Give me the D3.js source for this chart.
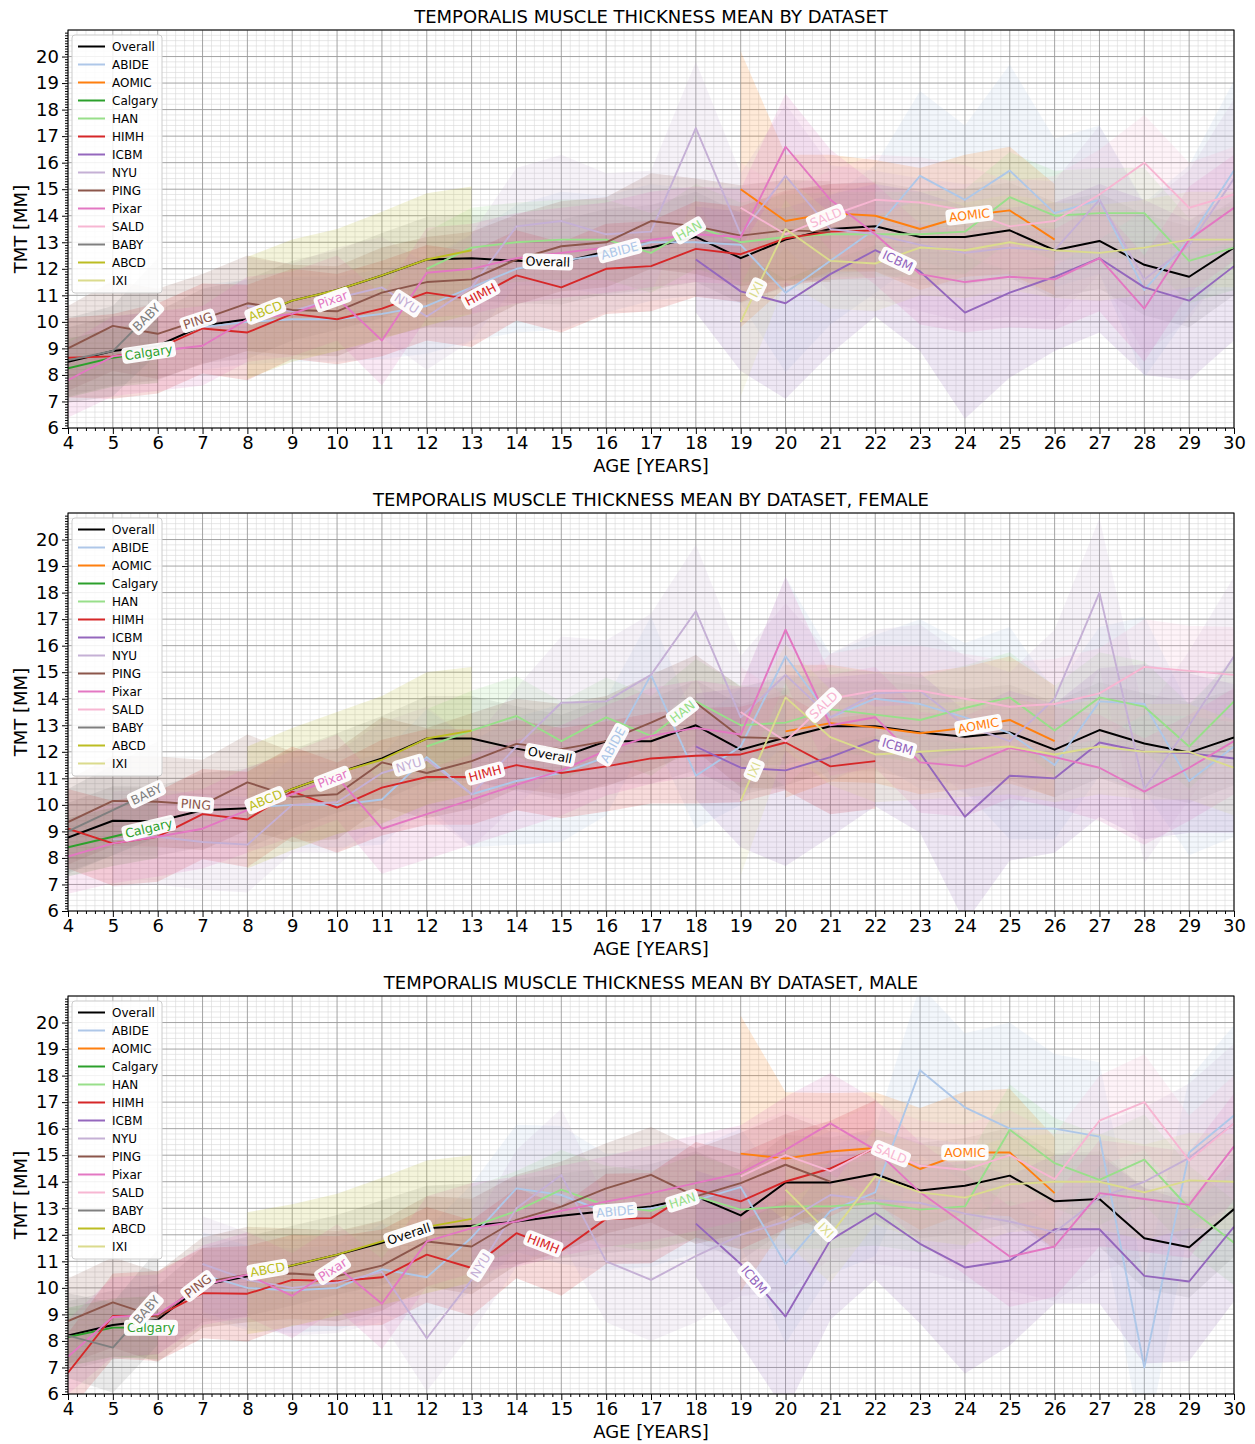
<!DOCTYPE html>
<html>
<head>
<meta charset="utf-8">
<script src="https://cdn.jsdelivr.net/npm/d3@7"></script>
<style>
  body { margin: 0; background: #fff; }
  svg text { font-family: "DejaVu Sans", sans-serif; }
</style>
</head>
<body>
<svg id="chart" width="1255" height="1444"></svg>
<script>
// ---------- categories ----------
const AGES = [4,5,6,7,8,9,10,11,12,13,14,15,16,17,18,19,20,21,22,23,24,25,26,27,28,29,30];
const Y_TICKS = [6,7,8,9,10,11,12,13,14,15,16,17,18,19,20];
const DATASETS = ["Overall","ABIDE","AOMIC","Calgary","HAN","HIMH","ICBM","NYU","PING","Pixar","SALD","BABY","ABCD","IXI"];
const COLORS = ["#000000","#aec7e8","#ff7f0e","#2ca02c","#98df8a","#d62728","#9467bd","#c5b0d5","#8c564b","#e377c2","#f7b6d2","#7f7f7f","#bcbd22","#dbdb8d"];
const TITLES = [
  "TEMPORALIS MUSCLE THICKNESS MEAN BY DATASET",
  "TEMPORALIS MUSCLE THICKNESS MEAN BY DATASET, FEMALE",
  "TEMPORALIS MUSCLE THICKNESS MEAN BY DATASET, MALE"
];

// ---------- all subjects: first age of each dataset and mean TMT per year ----------
const FIRST_AGE_ALL = [4,7,19,4,12,4,18,8,4,4,19,4,8,19];
const ALL_OVERALL = [8.5,8.9,9.1,9.85,10.1,10.8,11.2,11.75,12.35,12.4,12.3,12.25,12.65,12.8,13.2,12.4,13.1,13.5,13.6,13.2,13.2,13.45,12.7,13.05,12.15,11.7,12.8];
const ALL_ABIDE = [9.8,10.0,10.1,10.1,10.3,10.6,11.3,12.0,12.3,12.55,13.0,13.0,12.9,11.1,12.3,13.5,15.5,14.6,15.7,14.1,14.6,11.2,13.1,15.7];
const ALL_AOMIC = [15.0,13.8,14.1,14.0,13.5,14.0,14.2,13.1];
const ALL_CALGARY = [8.25,8.65,8.9];
const ALL_HAN = [12.0,12.8,13.0,13.1,13.1,12.6,13.6,13.0,13.2,13.3,13.3,13.3,13.4,14.7,14.0,14.1,14.1,12.3,12.8];
const ALL_HIMH = [8.65,8.7,9.0,9.75,9.6,10.3,10.1,10.5,11.1,10.85,11.75,11.3,12.0,12.1,12.75,12.55,13.15,13.4,13.45];
const ALL_ICBM = [12.35,11.15,10.7,11.8,12.7,11.9,10.35,11.1,11.7,12.4,11.3,10.8,12.1];
const ALL_NYU = [10.6,10.4,10.9,11.3,10.2,11.3,13.6,13.8,13.3,13.4,17.3,13.3,15.5,13.5,13.3,12.9,12.6,12.8,12.7,14.6,11.6,12.9,15.4];
const ALL_PING = [9.0,9.85,9.55,10.1,10.7,10.45,10.4,11.1,11.5,11.6,12.35,12.85,13.0,13.8,13.6,13.25,13.45,13.4];
const ALL_PIXAR = [7.8,8.7,8.9,9.1,10.1,10.3,10.9,9.3,11.85,12.0,12.4,12.6,12.8,13.1,13.3,13.2,16.6,14.6,13.3,11.8,11.5,11.7,11.6,12.4,10.5,13.1,14.3];
const ALL_SALD = [14.3,13.3,14.0,14.6,14.5,14.2,13.6,13.8,14.8,16.0,14.3,14.8];
const ALL_BABY = [8.55,8.9,10.6];
const ALL_ABCD = [10.15,10.8,11.2,11.75,12.35,12.7];
const ALL_IXI = [10.0,13.5,12.3,12.2,12.8,12.7,13.0,12.7,12.6,12.8,13.1,13.1];
const LABEL_AGE_ALL = [14.7,16.3,24.1,5.8,17.85,13.2,22.5,11.55,6.9,9.9,20.9,5.75,8.4,19.35];

// ---------- female ----------
const FIRST_AGE_FEMALE = [4,8,20,4,12,4,18,5,4,4,19,4,8,19];
const FEMALE_OVERALL = [8.77,9.4,9.38,9.8,9.87,10.6,11.2,11.75,12.5,12.5,12.12,11.8,12.4,12.4,13.0,12.08,12.54,12.96,12.96,12.73,12.57,12.73,12.08,12.82,12.31,11.97,12.54];
const FEMALE_ABIDE = [9.9,10.0,10.0,10.2,11.8,10.4,10.9,11.2,11.8,14.9,11.1,12.2,15.6,13.3,14.0,13.8,13.3,12.7,11.5,13.9,13.8,10.9,12.2];
const FEMALE_AOMIC = [12.77,13.08,12.92,12.7,12.9,13.2,12.4];
const FEMALE_CALGARY = [8.4,8.8,9.2];
const FEMALE_HAN = [12.2,12.8,13.35,12.4,13.3,12.6,13.9,13.0,13.1,13.6,13.4,13.2,13.65,14.05,12.8,14.05,13.7,12.2,13.9];
const FEMALE_HIMH = [9.1,8.55,8.8,9.65,9.45,10.5,9.9,10.65,11.05,11.05,11.5,11.2,11.45,11.75,11.85,11.9,12.35,11.45,11.65];
const FEMALE_ICBM = [12.2,11.4,11.3,11.8,12.45,11.95,9.55,11.1,11.0,12.35,12.0,11.95,11.75];
const FEMALE_NYU = [8.7,8.8,8.6,8.5,10.0,10.1,11.2,11.7,10.4,12.2,13.85,13.9,14.9,17.3,13.3,14.9,13.3,14.2,14.3,13.0,12.4,14.0,18.0,10.6,13.0,15.6];
const FEMALE_PING = [9.35,10.15,10.12,10.0,10.85,10.3,10.4,11.6,11.2,11.65,12.3,12.1,12.4,13.1,13.85,12.55,12.5];
const FEMALE_PIXAR = [8.05,8.55,8.8,9.1,9.8,10.4,11.05,9.1,9.65,10.2,10.75,11.3,12.05,12.6,12.9,12.65,16.6,13.0,13.3,11.6,11.45,12.15,11.8,11.4,10.5,11.4,12.4];
const FEMALE_SALD = [13.5,12.4,14.0,14.3,14.3,14.0,13.7,13.8,14.2,15.2,15.05,14.9];
const FEMALE_BABY = [9.0,9.8,10.6];
const FEMALE_ABCD = [9.9,10.6,11.2,11.7,12.5,12.8];
const FEMALE_IXI = [10.15,14.05,12.55,11.9,12.0,12.1,12.2,11.9,12.2,12.0,12.0,11.4];
const LABEL_AGE_FEMALE = [14.75,16.15,24.3,5.8,17.7,13.3,22.5,11.6,6.85,9.9,20.85,5.75,8.4,19.3];

// ---------- male ----------
const FIRST_AGE_MALE = [4,7,19,4,13,4,18,7,4,4,19,4,8,20];
const MALE_OVERALL = [8.2,8.6,8.8,10.1,10.44,10.84,11.25,11.7,12.25,12.34,12.5,12.72,12.9,13.07,13.45,12.73,13.97,13.97,14.29,13.67,13.85,14.23,13.26,13.35,11.87,11.53,12.97];
const MALE_ABIDE = [10.5,10.0,9.9,10.0,10.7,10.4,11.9,13.75,13.5,12.85,13.0,13.3,13.8,10.9,12.9,13.6,18.2,16.8,16.0,16.0,15.7,7.0,15.1,16.5];
const MALE_AOMIC = [15.06,14.87,15.14,15.27,14.48,15.1,15.1,13.57];
const MALE_CALGARY = [8.15,8.5,8.5];
const MALE_HAN = [12.3,12.9,13.7,13.1,12.9,13.45,12.95,13.07,13.07,13.2,12.95,13.07,15.96,14.7,14.07,14.83,13.0,11.7];
const MALE_HIMH = [6.8,8.94,8.94,9.8,9.78,10.3,10.25,10.4,11.25,10.75,12.06,11.4,12.6,12.63,13.7,13.26,14.01,14.5,15.27];
const MALE_ICBM = [12.42,10.9,8.92,11.8,12.82,11.66,10.77,11.03,12.21,12.21,10.45,10.24,12.3];
const MALE_NYU = [10.9,10.3,10.0,10.2,10.6,8.1,10.3,13.0,14.25,11.0,10.3,11.2,12.0,12.5,13.5,13.3,13.2,12.8,12.5,12.1,13.4,14.0,14.9,16.2];
const MALE_PING = [8.75,9.45,8.9,10.2,10.5,10.54,10.44,10.84,11.75,11.56,12.56,13.06,13.75,14.26,13.45,13.95,14.64,14.0];
const MALE_PIXAR = [7.4,8.9,9.0,10.1,10.5,9.7,10.8,9.4,11.75,12.25,12.5,12.9,13.25,13.57,13.95,14.33,15.2,16.2,15.2,13.6,12.4,11.18,11.56,13.57,13.35,13.13,15.33];
const MALE_SALD = [14.2,15.0,14.4,15.3,14.6,14.45,15.0,14.1,16.3,17.0,14.8,16.2];
const MALE_BABY = [8.2,7.75,9.65];
const MALE_ABCD = [10.55,10.85,11.25,11.75,12.3,12.6];
const MALE_IXI = [13.7,12.0,14.2,13.6,13.4,13.9,14.0,14.0,13.6,14.05,14.0];
const LABEL_AGE_MALE = [11.6,16.2,24.0,5.85,17.7,14.6,19.3,13.2,6.9,9.9,22.35,5.75,8.45,20.9];

// ---------- spread (std) per dataset, by year, starting at SD_FIRST_AGE ----------
const SD_FIRST_AGE = [4,5,19,4,12,4,18,5,4,4,19,4,8,19];
const SD_OVERALL = [1.3,1.3,1.3,1.4,1.5,1.5,1.5,1.6,1.6,1.6,1.6,1.6,1.6,1.6,1.7,1.7,1.8,1.7,1.7,1.8,1.8,1.8,1.8,1.8,1.9,1.9,1.8];
const SD_ABIDE = [1.6,1.6,1.6,1.6,1.6,1.6,1.7,1.8,2.0,2.4,2.6,2.2,2.2,2.0,2.2,3.0,2.4,2.4,3.2,2.8,4.0,2.8,2.8,3.3,2.8,3.4];
const SD_AOMIC = [5.2,2.5,2.2,2.1,2.3,2.3,2.4,2.1];
const SD_CALGARY = [1.1,1.1,1.2];
const SD_HAN = [1.4,1.5,1.5,1.5,1.5,1.5,1.6,1.5,1.6,1.6,1.6,1.6,1.6,1.7,1.7,1.7,1.7,1.6,1.6];
const SD_HIMH = [1.5,1.6,1.7,1.7,1.8,1.7,1.7,1.8,1.8,1.8,1.7,1.7,1.7,1.7,1.8,1.8,1.8,1.8,1.8];
const SD_ICBM = [2.0,3.0,3.6,3.0,2.5,3.0,4.0,3.2,2.8,2.8,3.3,3.0,2.8];
const SD_NYU = [1.8,1.8,1.8,1.8,1.8,1.9,1.9,2.0,2.0,2.2,2.5,2.3,2.3,2.5,2.3,2.7,2.4,2.4,2.5,2.6,2.6,2.6,2.8,2.8,2.8,3.0];
const SD_PING = [1.6,1.7,1.7,1.7,1.8,1.7,1.7,1.7,1.7,1.8,1.7,1.7,1.7,1.8,1.8,1.9,1.9,1.9];
const SD_PIXAR = [1.4,1.5,1.5,1.5,1.6,1.6,1.6,1.7,1.7,1.7,1.7,1.7,1.7,1.8,1.8,1.8,2.0,1.9,1.9,1.9,1.9,1.9,1.9,2.0,2.0,2.0,2.0];
const SD_SALD = [1.7,1.7,1.7,1.7,1.7,1.7,1.7,1.7,1.7,1.8,1.7,1.8];
const SD_BABY = [1.6,1.7,1.8];
const SD_ABCD = [2.3,2.3,2.3,2.4,2.5,2.4];
const SD_IXI = [2.8,2.0,1.8,1.8,1.8,1.8,1.8,1.8,1.8,1.8,1.8,1.8];

const SD_LIST = [SD_OVERALL,SD_ABIDE,SD_AOMIC,SD_CALGARY,SD_HAN,SD_HIMH,SD_ICBM,SD_NYU,SD_PING,SD_PIXAR,SD_SALD,SD_BABY,SD_ABCD,SD_IXI];

const PANELS = [
  { title: TITLES[0], first: FIRST_AGE_ALL, labelAge: LABEL_AGE_ALL,
    means: [ALL_OVERALL,ALL_ABIDE,ALL_AOMIC,ALL_CALGARY,ALL_HAN,ALL_HIMH,ALL_ICBM,ALL_NYU,ALL_PING,ALL_PIXAR,ALL_SALD,ALL_BABY,ALL_ABCD,ALL_IXI] },
  { title: TITLES[1], first: FIRST_AGE_FEMALE, labelAge: LABEL_AGE_FEMALE,
    means: [FEMALE_OVERALL,FEMALE_ABIDE,FEMALE_AOMIC,FEMALE_CALGARY,FEMALE_HAN,FEMALE_HIMH,FEMALE_ICBM,FEMALE_NYU,FEMALE_PING,FEMALE_PIXAR,FEMALE_SALD,FEMALE_BABY,FEMALE_ABCD,FEMALE_IXI] },
  { title: TITLES[2], first: FIRST_AGE_MALE, labelAge: LABEL_AGE_MALE,
    means: [MALE_OVERALL,MALE_ABIDE,MALE_AOMIC,MALE_CALGARY,MALE_HAN,MALE_HIMH,MALE_ICBM,MALE_NYU,MALE_PING,MALE_PIXAR,MALE_SALD,MALE_BABY,MALE_ABCD,MALE_IXI] }
];

// ---------- layout ----------
const LEFT = 68, RIGHT = 1234, PLOT_H = 398;
const PANEL_TOPS = [30, 513, 996];
const svg = d3.select("#chart");

const x = d3.scaleLinear().domain([4, 30]).range([LEFT, RIGHT]);
const minorX = d3.range(0, 131).map(i => 4 + i * 0.2).filter(v => Math.abs(v - Math.round(v)) > 1e-6);
const minorYGrid = d3.range(0, 76).map(i => 6 + i * 0.2).filter(v => Math.abs(v - Math.round(v)) > 1e-6);
const minorYTicks = d3.range(0, 151).map(i => 6 + i * 0.1).filter(v => Math.abs(v - Math.round(v)) > 1e-6);

PANELS.forEach((panel, p) => {
  const top = PANEL_TOPS[p];
  const bottom = top + PLOT_H;
  const y = d3.scaleLinear().domain([6, 21]).range([bottom, top]);
  const g = svg.append("g");

  const clipId = "clip" + p;
  svg.append("defs").append("clipPath").attr("id", clipId)
    .append("rect").attr("x", LEFT).attr("y", top).attr("width", RIGHT - LEFT).attr("height", PLOT_H);

  // grid: minor every 0.2, major every unit
  const grid = g.append("g");
  grid.selectAll(".mx").data(minorX).join("line")
    .attr("x1", d => x(d)).attr("x2", d => x(d)).attr("y1", top).attr("y2", bottom)
    .attr("stroke", "#d9d9d9").attr("stroke-width", 0.6);
  grid.selectAll(".my").data(minorYGrid).join("line")
    .attr("x1", LEFT).attr("x2", RIGHT).attr("y1", d => y(d)).attr("y2", d => y(d))
    .attr("stroke", "#d9d9d9").attr("stroke-width", 0.6);
  grid.selectAll(".Mx").data(AGES).join("line")
    .attr("x1", d => x(d)).attr("x2", d => x(d)).attr("y1", top).attr("y2", bottom)
    .attr("stroke", "#9a9a9a").attr("stroke-width", 0.9);
  grid.selectAll(".My").data(d3.range(6, 22)).join("line")
    .attr("x1", LEFT).attr("x2", RIGHT).attr("y1", d => y(d)).attr("y2", d => y(d))
    .attr("stroke", "#9a9a9a").attr("stroke-width", 0.9);

  // series: mean line with a ±1 std band
  const series = DATASETS.map((name, k) => {
    const first = panel.first[k];
    const sdArr = SD_LIST[k];
    const pts = panel.means[k].map((m, i) => {
      const age = first + i;
      const s = sdArr[age - SD_FIRST_AGE[k]];
      return { age, m, s: s == null ? 1.6 : s };
    });
    return { name, color: COLORS[k], first, pts, mean: panel.means[k], labelAge: panel.labelAge[k] };
  });

  const plot = g.append("g").attr("clip-path", `url(#${clipId})`);
  const area = d3.area().x(d => x(d.age)).y0(d => y(d.m - d.s)).y1(d => y(d.m + d.s));
  const line = d3.line().x(d => x(d.age)).y(d => y(d.m));

  plot.selectAll(".band").data(series).join("path")
    .attr("d", s => area(s.pts))
    .attr("fill", s => s.color)
    .attr("fill-opacity", s => s.name === "Overall" ? 0.07 : 0.16)
    .attr("stroke", "none");

  plot.selectAll(".ln").data(series).join("path")
    .attr("d", s => line(s.pts))
    .attr("fill", "none")
    .attr("stroke", s => s.color)
    .attr("stroke-width", s => s.name === "Overall" ? 2 : 1.9)
    .attr("stroke-linejoin", "round");

  // frame
  g.append("rect").attr("x", LEFT).attr("y", top).attr("width", RIGHT - LEFT).attr("height", PLOT_H)
    .attr("fill", "none").attr("stroke", "#000").attr("stroke-width", 1);

  // axes
  const xAxis = g.append("g").attr("transform", `translate(0,${bottom})`)
    .call(d3.axisBottom(x).tickValues(AGES).tickFormat(d3.format("d")).tickSize(6).tickPadding(2));
  xAxis.select(".domain").remove();
  xAxis.selectAll("text").attr("font-size", 18).attr("fill", "#000");
  const xMinor = g.append("g").attr("transform", `translate(0,${bottom})`)
    .call(d3.axisBottom(x).tickValues(minorX).tickFormat("").tickSize(3));
  xMinor.select(".domain").remove();

  const yAxis = g.append("g").attr("transform", `translate(${LEFT},0)`)
    .call(d3.axisLeft(y).tickValues(Y_TICKS).tickFormat(d3.format("d")).tickSize(6).tickPadding(3));
  yAxis.select(".domain").remove();
  yAxis.selectAll("text").attr("font-size", 18).attr("fill", "#000");
  const yMinor = g.append("g").attr("transform", `translate(${LEFT},0)`)
    .call(d3.axisLeft(y).tickValues(minorYTicks).tickFormat("").tickSize(3));
  yMinor.select(".domain").remove();

  // titles
  g.append("text").attr("x", (LEFT + RIGHT) / 2).attr("y", top - 7)
    .attr("text-anchor", "middle").attr("font-size", 18).text(panel.title);
  g.append("text").attr("x", (LEFT + RIGHT) / 2).attr("y", bottom + 44)
    .attr("text-anchor", "middle").attr("font-size", 18).text("AGE [YEARS]");
  g.append("text").attr("transform", `translate(27,${top + PLOT_H / 2}) rotate(-90)`)
    .attr("text-anchor", "middle").attr("font-size", 18).text("TMT [MM]");

  // inline line labels, placed on each line and turned along its segment
  const labels = g.append("g");
  series.forEach(s => {
    const la = s.labelAge;
    const i = Math.min(Math.floor(la - s.first), s.mean.length - 2);
    const a0 = s.first + i, a1 = a0 + 1;
    const m0 = s.mean[i], m1 = s.mean[i + 1];
    const v = m0 + (m1 - m0) * (la - a0);
    const ang = Math.atan2(y(m1) - y(m0), x(a1) - x(a0)) * 180 / Math.PI;
    const lg = labels.append("g").attr("transform", `translate(${x(la)},${y(v)}) rotate(${ang})`);
    const rect = lg.append("rect");
    const t = lg.append("text").attr("text-anchor", "middle").attr("dy", "0.35em")
      .attr("font-size", 12.5).attr("fill", s.color).text(s.name);
    const w = t.node().getComputedTextLength();
    rect.attr("x", -w / 2 - 3).attr("y", -8).attr("width", w + 6).attr("height", 16)
      .attr("rx", 4).attr("fill", "#fff").attr("fill-opacity", 0.95);
  });

  // legend
  const leg = g.append("g").attr("transform", `translate(72,${top + 5})`);
  leg.append("rect").attr("width", 90).attr("height", 258).attr("rx", 3)
    .attr("fill", "#fff").attr("fill-opacity", 0.85).attr("stroke", "#cccccc");
  series.forEach((s, k) => {
    const yy = 11.5 + 18 * k;
    leg.append("line").attr("x1", 6).attr("x2", 33).attr("y1", yy).attr("y2", yy)
      .attr("stroke", s.color).attr("stroke-width", 2);
    leg.append("text").attr("x", 40).attr("y", yy).attr("dy", "0.35em")
      .attr("font-size", 12).attr("fill", "#000").text(s.name);
  });
});
</script>
</body>
</html>
